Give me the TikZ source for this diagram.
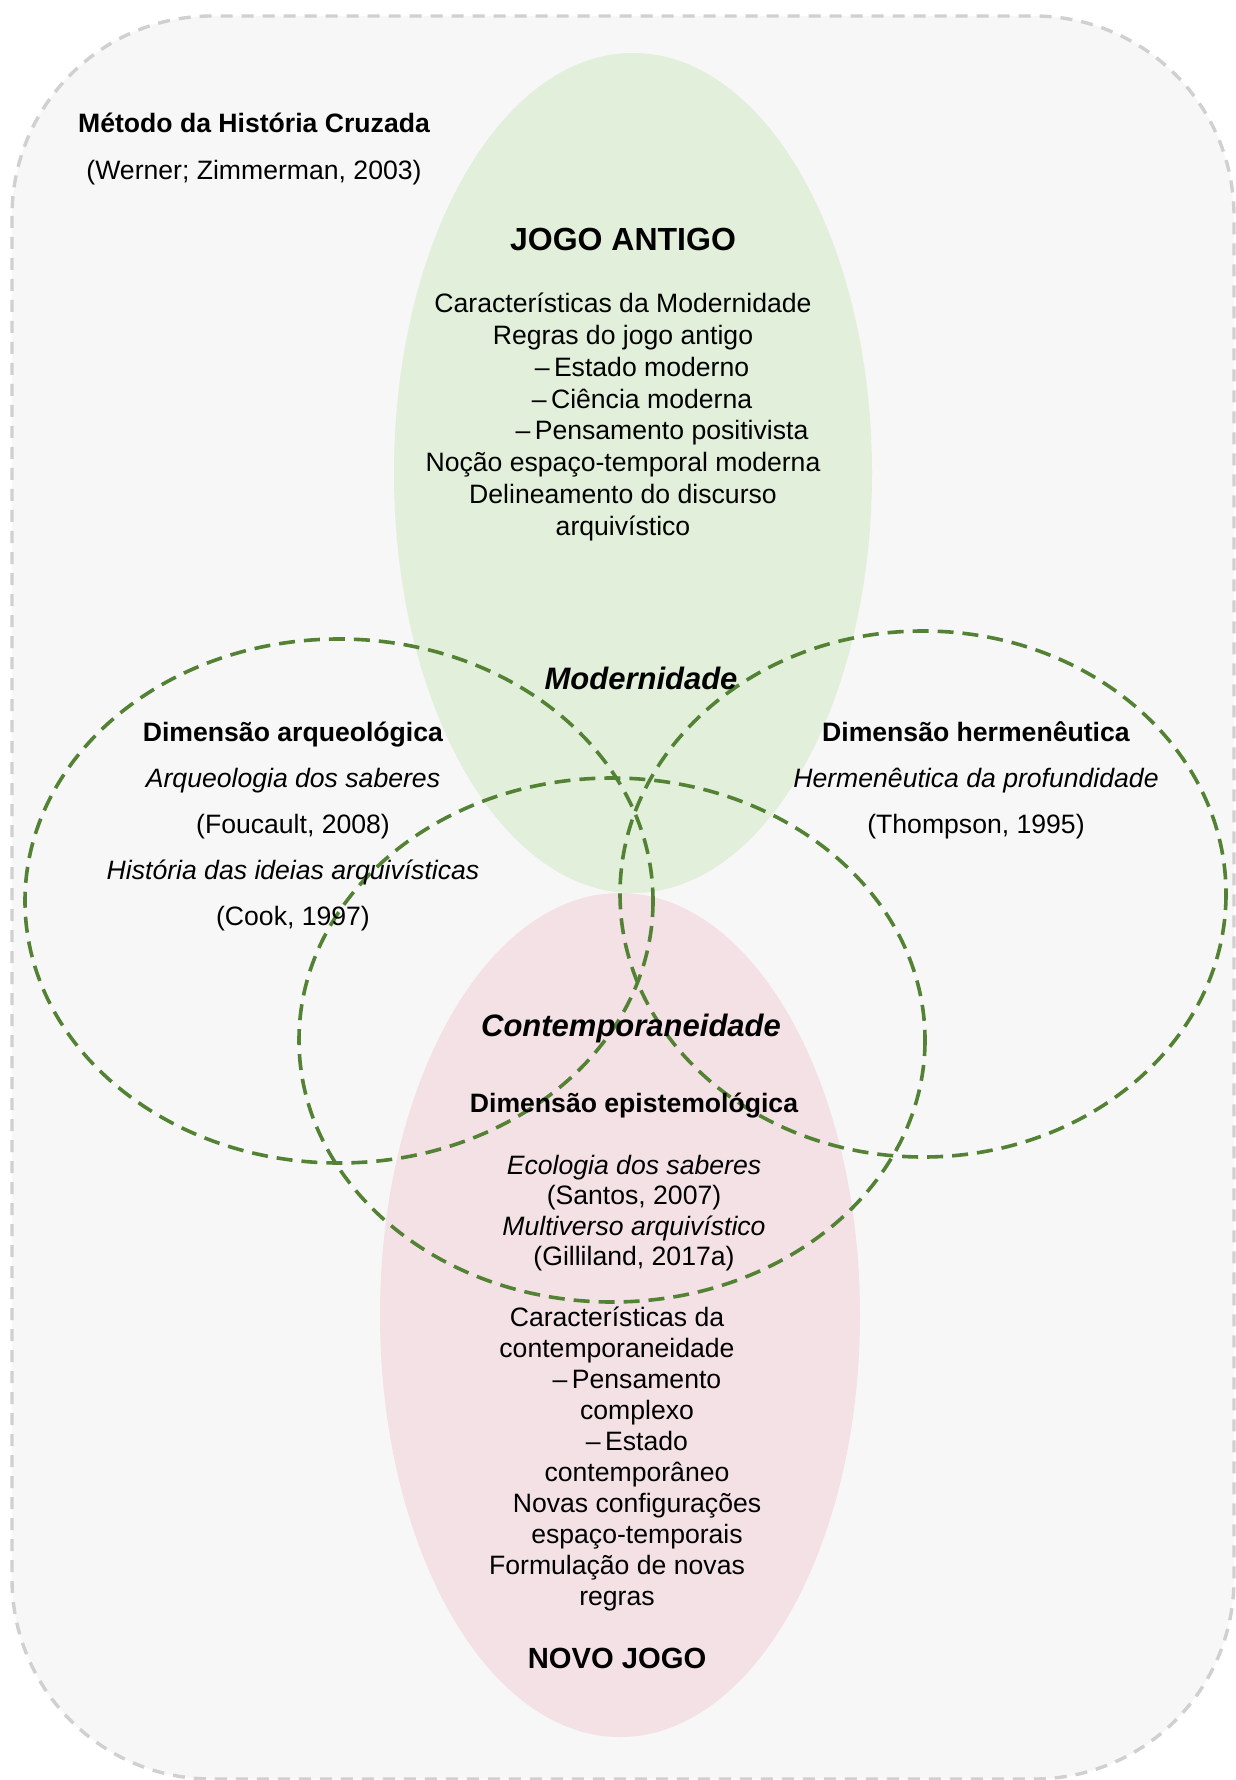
\documentclass[tikz,border=0pt]{standalone}
\usepackage{fontspec}
\setmainfont{Liberation Sans}
\usetikzlibrary{positioning}
\definecolor{paper}{HTML}{F7F7F7}
\definecolor{frameGray}{HTML}{D0D0D0}
\definecolor{oldGreen}{HTML}{E2EFDA}
\definecolor{newPink}{HTML}{F4E1E5}
\definecolor{dimGreen}{HTML}{548235}
\tikzstyle{frame} = [fill=paper, draw=frameGray, line width=1.7pt, dash pattern=on 6pt off 4.5pt, rounded corners=100pt]
\tikzstyle{dimension} = [draw=dimGreen, line width=1.8pt, dash pattern=on 8pt off 4.5pt]
\tikzstyle{body} = [inner sep=0pt, align=center, font=\fontsize{13.3}{15.9}\selectfont]
\tikzstyle{game} = [inner sep=0pt, font=\fontsize{16}{19}\selectfont\bfseries]
\tikzstyle{era} = [inner sep=0pt, font=\fontsize{15.5}{19}\selectfont\bfseries\itshape]

\begin{document}
\begin{tikzpicture}[x=0.5pt, y=-0.5pt]
 \useasboundingbox (0,0) rectangle (1235,1780);
 \draw [frame] (12,16) rectangle (1234,1779);

 % jogo antigo / novo jogo
 \fill [oldGreen] (633,473) ellipse [x radius=239, y radius=420];
 \fill [newPink] (620,1315) ellipse [x radius=240, y radius=422];

 % dimensoes
 \draw [dimension] (339,901) ellipse [x radius=314, y radius=262];
 \draw [dimension] (923,894) ellipse [x radius=303, y radius=263];
 \draw [dimension] (612,1040) ellipse [x radius=313, y radius=262];

 \node (metodo) [body, font=\fontsize{13.3}{15.9}\selectfont\bfseries] at (254,123) {Método da História Cruzada};
 \node (werner) [body] at (254,173) {(Werner; Zimmerman, 2003)};

 \node (antigo) [game] at (623,239) {JOGO ANTIGO};
 \node (modernas) [body] at (623,417) {Características da Modernidade\\
  Regras do jogo antigo\\
  \hspace*{19pt}\textendash\,Estado moderno\\
  \hspace*{19pt}\textendash\,Ciência moderna\\
  \hspace*{39pt}\textendash\,Pensamento positivista\\
  Noção espaço-temporal moderna\\
  Delineamento do discurso\\
  arquivístico};
 \node (modernidade) [era] at (641,678) {Modernidade};

 \node (arqueo) [body] at (293,826) {\textbf{Dimensão arqueológica}\\[7.1pt]
  \textit{Arqueologia dos saberes}\\[7.1pt]
  (Foucault, 2008)\\[7.1pt]
  \textit{História das ideias arquivísticas}\\[7.1pt]
  (Cook, 1997)};
 \node (herme) [body] at (976,780) {\textbf{Dimensão hermenêutica}\\[7.1pt]
  \textit{Hermenêutica da profundidade}\\[7.1pt]
  (Thompson, 1995)};

 \node (contemporaneidade) [era] at (631,1028) {Contemporaneidade};
 \node (episte) [body, font=\fontsize{13.3}{15.9}\selectfont\bfseries] at (634,1106) {Dimensão epistemológica};
 \node (saberes) [body, font=\fontsize{13.3}{15.2}\selectfont] at (634,1213) {\textit{Ecologia dos saberes}\\
  (Santos, 2007)\\
  \textit{Multiverso arquivístico}\\
  (Gilliland, 2017a)};

 \node (contemporaneas) [body, font=\fontsize{13.3}{15.5}\selectfont] at (617,1459) {Características da\\
  contemporaneidade\\
  \hspace*{20pt}\textendash\,Pensamento\\
  \hspace*{20pt}complexo\\
  \hspace*{20pt}\textendash\,Estado\\
  \hspace*{20pt}contemporâneo\\
  \hspace*{20pt}Novas configurações\\
  \hspace*{20pt}espaço-temporais\\
  Formulação de novas\\
  regras};
 \node (novo) [game, font=\fontsize{14.6}{18}\selectfont\bfseries] at (617,1658) {NOVO JOGO};
\end{tikzpicture}
\end{document}
